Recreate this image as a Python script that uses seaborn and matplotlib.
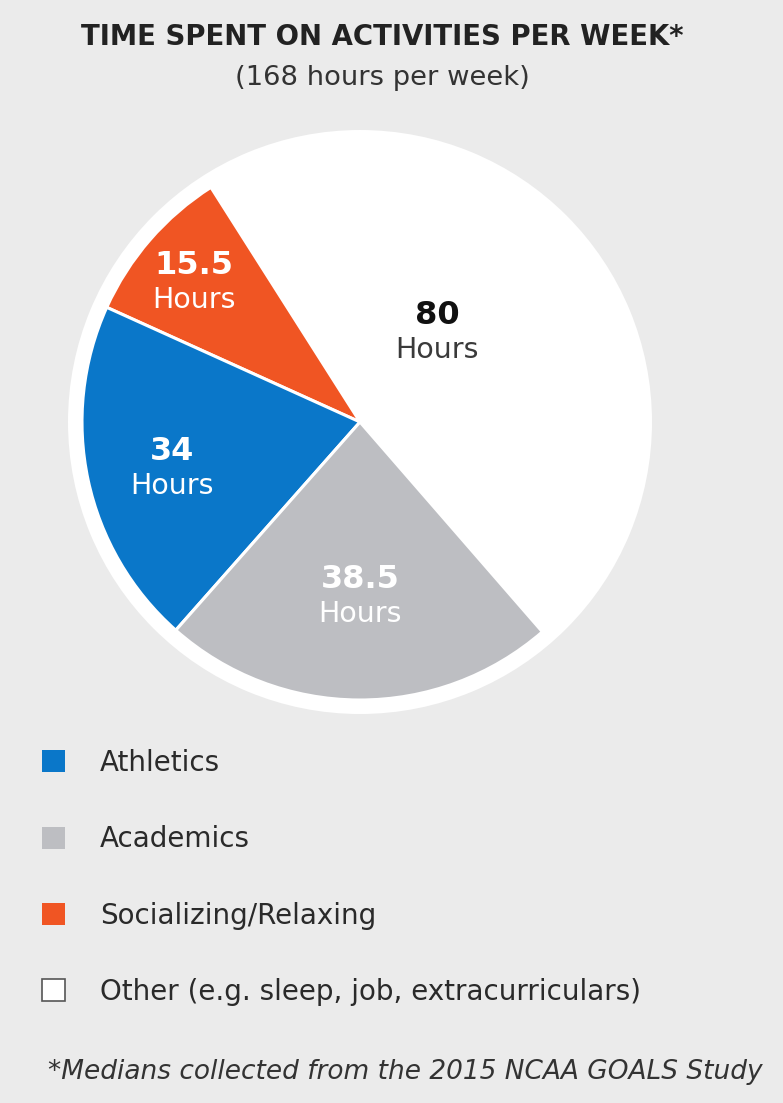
import matplotlib
matplotlib.use("Agg")
import matplotlib.pyplot as plt
import seaborn as sns
from matplotlib.patches import Patch

# ---- data ----
categories = ["Athletics", "Academics", "Socializing/Relaxing",
              "Other (e.g. sleep, job, extracurriculars)"]
hours = [34, 38.5, 15.5, 80]
value_labels = ["34", "38.5", "15.5", "80"]
unit_label = "Hours"
title = "TIME SPENT ON ACTIVITIES PER WEEK*"
subtitle = "(168 hours per week)"
footnote = "*Medians collected from the 2015 NCAA GOALS Study"

# ---- style / layout ----
colors = ["#0a77c9", "#bdbec2", "#f05523", "#ffffff"]
pie_order = [3, 2, 0, 1]          # drawing order counter-clockwise
W, H = 783, 1103
bg = "#ebebeb"
label_px = [(172, 452), (360, 580), (194, 266), (437, 316)]
num_colors = ["white", "white", "white", "#111111"]
unit_colors = ["white", "white", "white", "#3a3a3a"]

sns.set_theme(style="white")
plt.rcParams["font.family"] = ["DejaVu Sans"]

fig = plt.figure(figsize=(W / 100, H / 100), dpi=100, facecolor=bg)
ax = fig.add_axes([0, 0, 1, 1])
ax.set_facecolor(bg)


def py(y):
    return H - y


cx, cy = 360, py(422)
# white ring behind
ax.pie([sum(hours)], radius=292, center=(cx, cy), colors=["white"],
       frame=True, wedgeprops=dict(linewidth=0))
ax.pie([hours[i] for i in pie_order], colors=[colors[i] for i in pie_order],
       radius=278, center=(cx, cy), startangle=-49, counterclock=True,
       frame=True, wedgeprops=dict(linewidth=2.2, edgecolor="white"))
ax.set_xlim(0, W)
ax.set_ylim(0, H)
ax.set_aspect("auto")
ax.axis("off")

for i, (x, y) in enumerate(label_px):
    ax.text(x, py(y), value_labels[i], ha="center", va="center",
            fontsize=23, fontweight="bold", color=num_colors[i])
    ax.text(x, py(y + 34), unit_label, ha="center", va="center",
            fontsize=20.5, color=unit_colors[i])

ax.text(382, py(37), title, ha="center", va="center", fontsize=19.8,
        fontweight="bold", color="#222222")
ax.text(382, py(78), subtitle, ha="center", va="center", fontsize=19.7,
        color="#333333")

handles = []
for c in colors:
    if c == "#ffffff":
        handles.append(Patch(facecolor=c, edgecolor="#555555", linewidth=1.2))
    else:
        handles.append(Patch(facecolor=c, edgecolor=c, linewidth=0))
ax.legend(handles, categories, loc="upper left",
          bbox_to_anchor=(42 / W, 1 - 749 / H), bbox_transform=fig.transFigure,
          frameon=False, fontsize=20, handlelength=0.83, handleheight=0.83,
          handletextpad=1.25, labelspacing=1.74, borderpad=0, borderaxespad=0,
          labelcolor="#2a2a2a")

ax.text(405, py(1072), footnote, ha="center", va="center", fontsize=19,
        style="italic", color="#333333")

fig.savefig("out.png", dpi=100, facecolor=bg)
